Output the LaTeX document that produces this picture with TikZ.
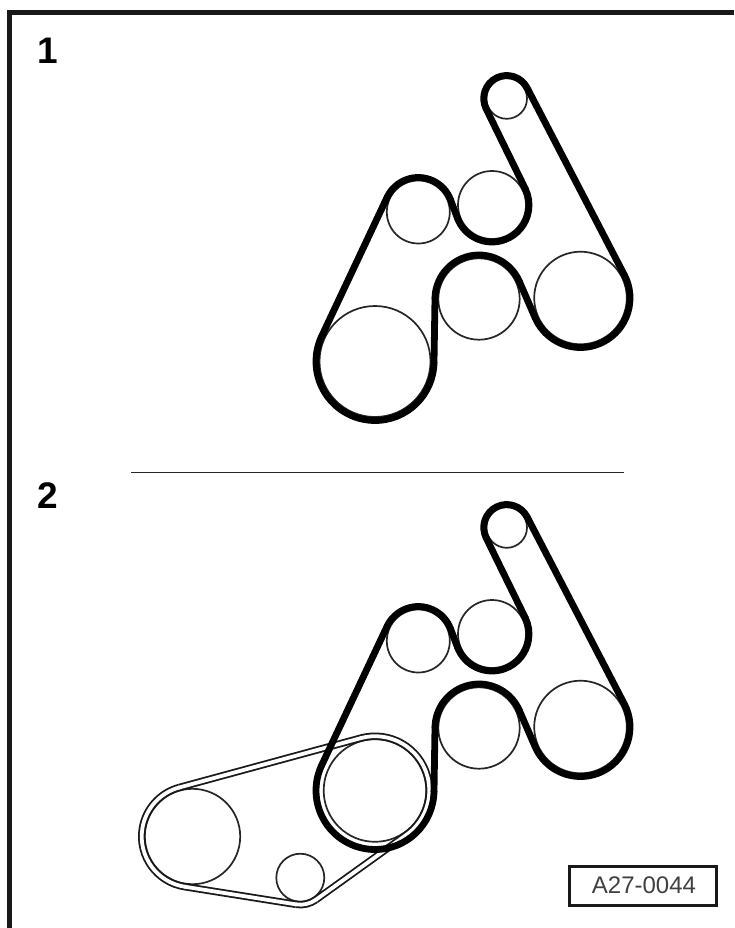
\documentclass[tikz,border=0pt]{standalone}
\usepackage{fontspec}
\setmainfont{Liberation Sans}
\tikzset{
  thinline/.style={line width=1.7pt,black!85},
  mainbelt/.style={line width=6.8pt,black,line cap=round},
  ribouter/.style={line width=7.4pt,black!90,line cap=butt},
  ribinner/.style={line width=3.8pt,white,line cap=round},
  framing/.style={line width=5pt,black!90},
  numlabel/.style={font=\bfseries\fontsize{37}{37}\selectfont,inner sep=0pt,text=black},
  codebox/.style={draw=black!90,line width=3pt,minimum width=147pt,minimum height=39pt,inner sep=0pt,font=\fontsize{24}{24}\selectfont,text=black!75}
}
\newcommand\Pulley[4]{%
  \expandafter\def\csname px#1\endcsname{#2}%
  \expandafter\def\csname py#1\endcsname{#3}%
  \expandafter\def\csname pr#1\endcsname{#4}}
\newcommand\PX[1]{\csname px#1\endcsname}
\newcommand\PY[1]{\csname py#1\endcsname}
\newcommand\PR[1]{\csname pr#1\endcsname}
\newcommand\Leg[3]{%
  \pgfmathsetmacro\tmpd{veclen((\PX{#3})-(\PX{#2}),(\PY{#3})-(\PY{#2}))}%
  \pgfmathsetmacro\tmpf{atan2((\PY{#3})-(\PY{#2}),(\PX{#3})-(\PX{#2}))+acos(((\PR{#2})-(\PR{#3}))/\tmpd)}%
  \expandafter\let\csname phi#2#3\endcsname\tmpf
  \draw[#1] ({(\PX{#2})+(\PR{#2})*cos(\tmpf)},{(\PY{#2})+(\PR{#2})*sin(\tmpf)}) --
            ({(\PX{#3})+(\PR{#3})*cos(\tmpf)},{(\PY{#3})+(\PR{#3})*sin(\tmpf)});}
\newcommand\Wrap[4]{% style, pulley, incoming angle name, outgoing angle name
  \pgfmathsetmacro\tmpR{abs(\PR{#2})}%
  \pgfmathsetmacro\tmpS{(\PR{#2})<0 ? 180 : 0}%
  \pgfmathsetmacro\tmpA{\csname phi#3\endcsname+\tmpS}%
  \pgfmathsetmacro\tmpO{\csname phi#4\endcsname+\tmpS}%
  \pgfmathsetmacro\tmpB{(\PR{#2})<0 ? \tmpA+mod(\tmpO-\tmpA+1080,360) : \tmpA-mod(\tmpA-\tmpO+1080,360)}%
  \draw[#1] ({(\PX{#2})+\tmpR*cos(\tmpA)},{(\PY{#2})+\tmpR*sin(\tmpA)})
     arc[start angle=\tmpA,end angle=\tmpB,radius=\tmpR];}
\newcommand\MainBelt{%
  \Leg{mainbelt}{A}{B}\Leg{mainbelt}{B}{C}\Leg{mainbelt}{C}{D}%
  \Leg{mainbelt}{D}{E}\Leg{mainbelt}{E}{F}\Leg{mainbelt}{F}{A}%
  \Wrap{mainbelt}{A}{FA}{AB}\Wrap{mainbelt}{B}{AB}{BC}\Wrap{mainbelt}{C}{BC}{CD}%
  \Wrap{mainbelt}{D}{CD}{DE}\Wrap{mainbelt}{E}{DE}{EF}\Wrap{mainbelt}{F}{EF}{FA}}
\newcommand\MainPulleys{%
  \draw[thinline] (418.3,212) circle[radius=31.5];
  \draw[thinline] (492,205) circle[radius=34];
  \draw[thinline] (506.7,98.5) circle[radius=20.3];
  \draw[thinline] (580.5,298) circle[radius=46.3];
  \draw[thinline] (479,299) circle[radius=40.7];}
\newcommand\RibPass[2]{%
  \Leg{#1}{U}{T}\Leg{#1}{T}{S}\Leg{#1}{S}{U}%
  \Wrap{#2}{U}{SU}{UT}\Wrap{#2}{T}{UT}{TS}\Wrap{#2}{S}{TS}{SU}}
\begin{document}
\begin{tikzpicture}[x=1pt,y=-1pt]
  \useasboundingbox (0,0) rectangle (734,928);
  \fill[white] (0,0) rectangle (734,928);
  \draw[framing] (9.5,928) -- (9.5,12.5) -- (734,12.5);
  \node[numlabel] (one) at (47.5,51) {1};
  \node[numlabel] (two) at (47.5,496) {2};
  \draw[thinline] (131,472.5) -- (624,472.5);
  \node[codebox] (code) at (643,885.5) {\hspace{2pt}A27-0044};

  \Pulley{A}{375}{361.5}{-59}
  \Pulley{B}{418.3}{212}{-34.5}
  \Pulley{C}{492}{205}{37}
  \Pulley{D}{506.7}{98.5}{-23}
  \Pulley{E}{580.5}{298}{-49.5}
  \Pulley{F}{479}{299}{44}

  % upper drive
  \MainPulleys
  \draw[thinline] (375,361.5) circle[radius=55.5];
  \MainBelt

  % lower drive
  \begin{scope}[yshift=-429pt]
    \MainPulleys
  \end{scope}
  \Pulley{U}{375}{790.5}{-54.3}
  \Pulley{T}{300.3}{877.7}{-27}
  \Pulley{S}{192.5}{836.5}{-50.8}
  \draw[thinline] (192.5,836.5) circle[radius=47.7];
  \draw[thinline] (300.3,877.7) circle[radius=24];
  \draw[thinline] (375,790.5) circle[radius=51.3];
  \RibPass{ribouter}{ribouter}
  \RibPass{ribinner}{ribinner}
  \begin{scope}[yshift=-429pt]
    \MainBelt
  \end{scope}
\end{tikzpicture}
\end{document}
